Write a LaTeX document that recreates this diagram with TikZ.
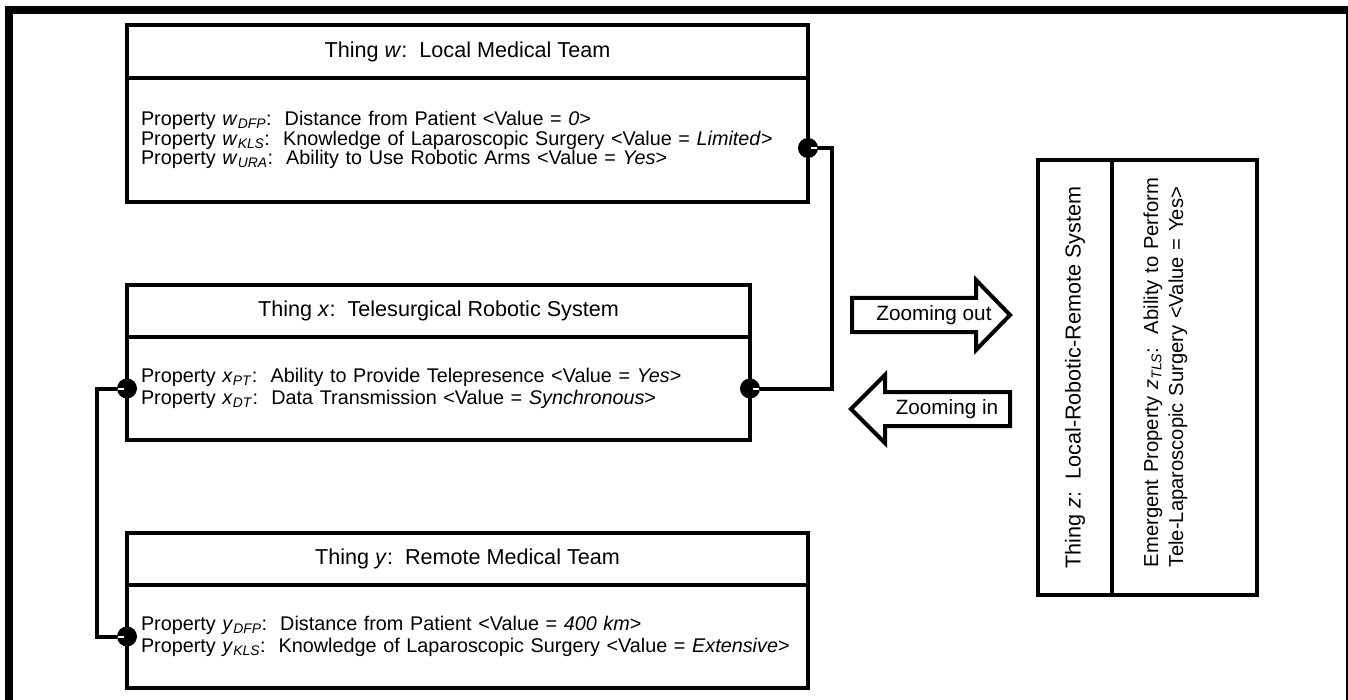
\documentclass[tikz,border=0pt]{standalone}
\usepackage{fontspec}
\setmainfont{Liberation Sans}
\usetikzlibrary{positioning}
\hyphenpenalty=10000
\lineskiplimit=-10pt
\newcommand{\prop}[2]{Property \textit{#1}\textsubscript{\textit{#2}}:\ \ }
\begin{document}
\begin{tikzpicture}[x=1pt,y=-1pt]
\tikzset{thinghead/.style={draw, line width=4pt, outer sep=0pt, inner sep=0pt, font=\fontsize{21.6}{24}\selectfont},
thingbody/.style={draw, line width=4pt, outer sep=0pt, inner xsep=14pt, inner ysep=0pt, align=left, font=\fontsize{19.8}{21.5}\selectfont},
port/.style={circle, fill, inner sep=0pt, minimum size=20pt},
lien/.style={line width=4pt},
bloc/.style={draw, line width=4pt, line join=miter},
zoomlabel/.style={font=\fontsize{20.7}{22}\selectfont}}
\useasboundingbox (0,0) rectangle (1348,700);
\draw[line width=8pt] (9,700) -- (9,10) -- (1348,10);
\draw[line width=2pt] (1347,10) -- (1347,700);
\node[thinghead, minimum width=681pt, minimum height=53pt, anchor=north west] (W) at (127,25) {Thing \textit{w}:\ \ Local Medical Team};
\node[thingbody, text width=653pt, minimum height=124pt, below=0pt of W, font=\fontsize{19.8}{19.5}\selectfont] (Wp) {\prop{w}{DFP}Distance from Patient <Value = \textit{0}>\\
\prop{w}{KLS}Knowledge of Laparoscopic Surgery <Value = \textit{Limited}>\\
\prop{w}{URA}Ability to Use Robotic Arms <Value = \textit{Yes}>};
\node[thinghead, minimum width=623pt, minimum height=52pt, anchor=north west] (X) at (127,285) {Thing \textit{x}:\ \ Telesurgical Robotic System};
\node[thingbody, text width=595pt, minimum height=103pt, below=0pt of X] (Xp) {\prop{x}{PT}Ability to Provide Telepresence <Value = \textit{Yes}>\\
\prop{x}{DT}Data Transmission <Value = \textit{Synchronous}>};
\node[thinghead, minimum width=681pt, minimum height=52pt, anchor=north west] (Y) at (127,533) {Thing \textit{y}:\ \ Remote Medical Team};
\node[thingbody, text width=653pt, minimum height=103pt, below=0pt of Y] (Yp) {\prop{y}{DFP}Distance from Patient <Value = \textit{400 km}>\\
\mbox{\prop{y}{KLS}Knowledge of Laparoscopic Surgery <Value = \textit{Extensive}>}};
\node[thinghead, rotate=90, minimum width=435pt, minimum height=74pt] (Z) at (1075,377.5) {Thing \textit{z}:\ \ Local-Robotic-Remote System};
\node[thinghead, rotate=90, minimum width=435pt, minimum height=145pt, anchor=north] (Zp) at (Z.south) {};
\node[rotate=90, align=left, text width=400pt, inner sep=0pt, font=\fontsize{20.2}{25}\selectfont] (ZE) at (1165.5,367) {Emergent Property \textit{z}\textsubscript{\textit{TLS}}:\ \ Ability to Perform\\
Tele-Laparoscopic Surgery <Value = Yes>};
\node[port] (PW) at ([yshift=-8pt]Wp.east) {};
\node[port] (PXR) at (Xp.east) {};
\node[port] (PXL) at (Xp.west) {};
\node[port] (PY) at (Yp.west) {};
\draw[lien] (PW) -- ++(24,0) |- (PXR);
\draw[lien] (PXL) -- ++(-30,0) |- (PY);
\draw[white, line width=2pt] ([xshift=-1.5pt]PW.east) -- ([xshift=-7.5pt]PW.east);
\draw[white, line width=2pt] ([xshift=-1.5pt]PXR.east) -- ([xshift=-7.5pt]PXR.east);
\draw[white, line width=2pt] ([xshift=1.5pt]PXL.west) -- ([xshift=7.5pt]PXL.west);
\draw[white, line width=2pt] ([xshift=1.5pt]PY.west) -- ([xshift=7.5pt]PY.west);
\draw[bloc] (852,298) -- (976,298) -- (976,280) -- (1010,315) -- (976,350) -- (976,332) -- (852,332) -- cycle;
\node[zoomlabel] (ZO) at (934,315) {Zooming out};
\draw[bloc] (1010,392) -- (885,392) -- (885,375) -- (851,409) -- (885,443) -- (885,426) -- (1010,426) -- cycle;
\node[zoomlabel] (ZI) at (947,409) {Zooming in};
\end{tikzpicture}
\end{document}
